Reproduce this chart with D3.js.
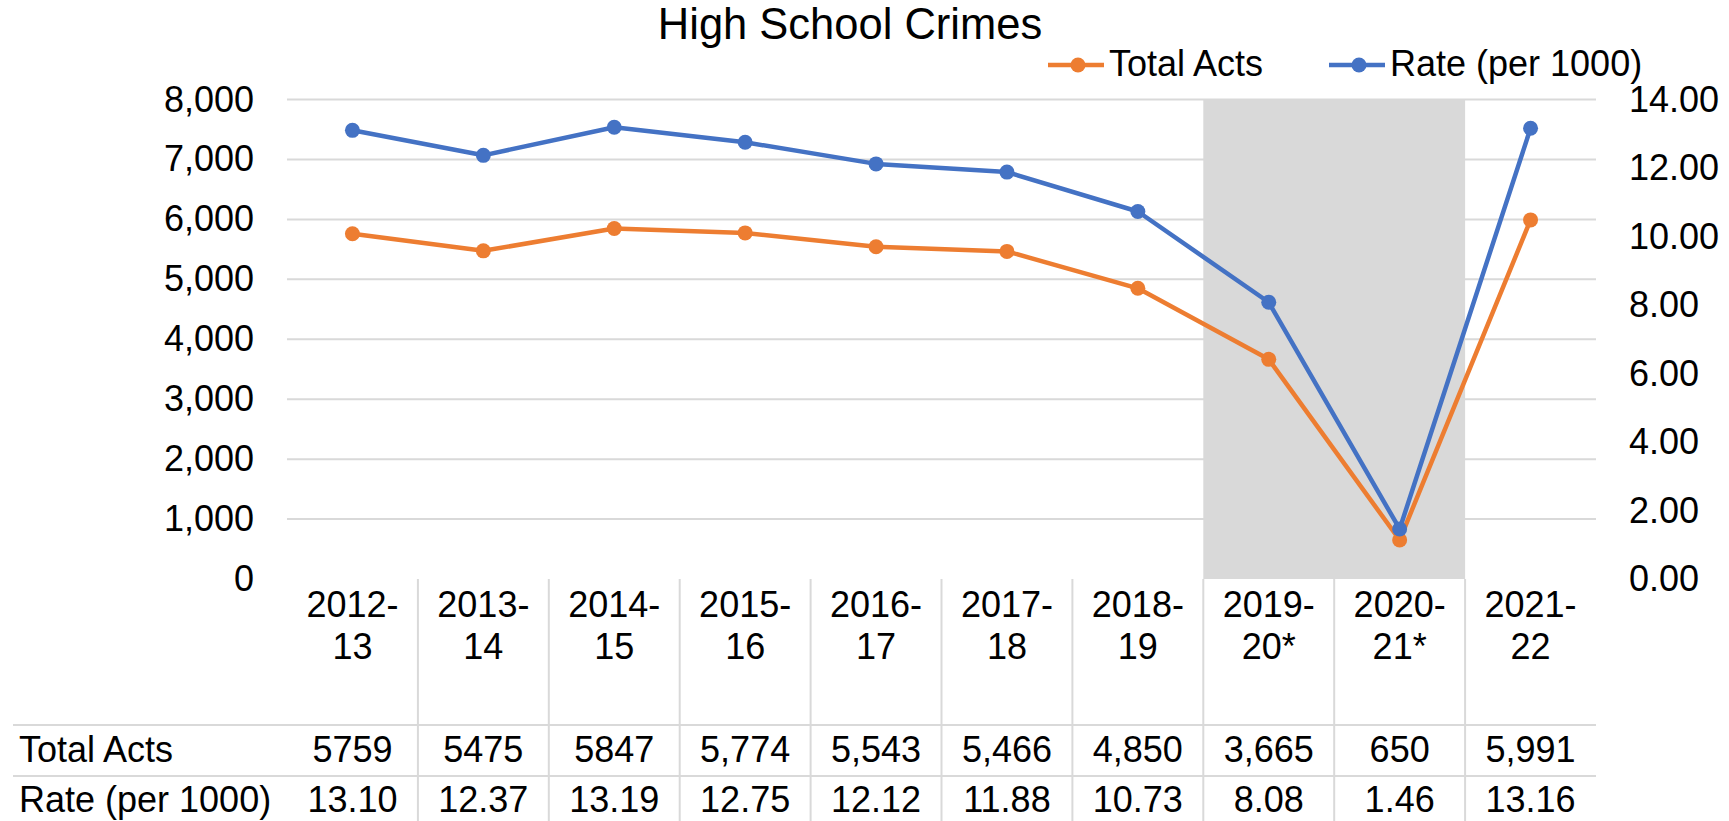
<!DOCTYPE html>
<html>
<head>
<meta charset="utf-8">
<script src="https://cdn.jsdelivr.net/npm/d3@7"></script>
<style>
  body { margin: 0; background: #fff; }
  text { font-family: "Liberation Sans", Arial, sans-serif; fill: #000; }
</style>
</head>
<body>
<script>
var w = 1729;
var h = 821;

var categories = ["2012-13", "2013-14", "2014-15", "2015-16", "2016-17", "2017-18", "2018-19", "2019-20*", "2020-21*", "2021-22"];
var totalActs = [5759, 5475, 5847, 5774, 5543, 5466, 4850, 3665, 650, 5991];
var rates = [13.10, 12.37, 13.19, 12.75, 12.12, 11.88, 10.73, 8.08, 1.46, 13.16];
var totalLabels = ["5759", "5475", "5847", "5,774", "5,543", "5,466", "4,850", "3,665", "650", "5,991"];
var shadedCats = ["2019-20*", "2020-21*"];
var leftTicks = [0, 1000, 2000, 3000, 4000, 5000, 6000, 7000, 8000];
var rightTicks = [0, 2, 4, 6, 8, 10, 12, 14];

// plot box (window.top is reserved, so use other names)
var plotLeft = 287, plotRight = 1596, plotTop = 99.5, plotBottom = 579;
var fs = 36;

var xScale = d3.scaleBand().domain(categories).range([plotLeft, plotRight]).padding(0);
var yLeft = d3.scaleLinear().domain([0, 8000]).range([plotBottom, plotTop]);
var yRight = d3.scaleLinear().domain([0, 14]).range([plotBottom, plotTop]);
var cx = function(d) { return xScale(d) + xScale.bandwidth() / 2; };

var svg = d3.select("body").append("svg")
    .attr("width", w)
    .attr("height", h);

// gridlines
svg.append("g").selectAll("line")
   .data(leftTicks.filter(function(d) { return d > 0; }))
   .enter().append("line")
   .attr("x1", plotLeft).attr("x2", plotRight)
   .attr("y1", function(d) { return yLeft(d); })
   .attr("y2", function(d) { return yLeft(d); })
   .attr("stroke", "#d9d9d9")
   .attr("stroke-width", 2);

// shaded years - one block so no seam between the two bands
var shadeX0 = d3.min(shadedCats, function(d) { return xScale(d); });
var shadeX1 = d3.max(shadedCats, function(d) { return xScale(d) + xScale.bandwidth(); });
svg.append("rect")
   .attr("x", shadeX0)
   .attr("width", shadeX1 - shadeX0)
   .attr("y", yLeft(8000))
   .attr("height", yLeft(0) - yLeft(8000))
   .attr("fill", "#d9d9d9");

// axes
var yAxisL = d3.axisLeft(yLeft).tickValues(leftTicks).tickFormat(d3.format(",")).tickSize(0).tickPadding(33);
var gl = svg.append("g").attr("transform", "translate(" + plotLeft + ",0)").call(yAxisL);
gl.select(".domain").remove();
gl.selectAll("text").attr("font-size", fs).style("font-family", "'Liberation Sans', Arial, sans-serif");

var yAxisR = d3.axisRight(yRight).tickValues(rightTicks).tickFormat(d3.format(".2f")).tickSize(0).tickPadding(33);
var gr = svg.append("g").attr("transform", "translate(" + plotRight + ",0)").call(yAxisR);
gr.select(".domain").remove();
gr.selectAll("text").attr("font-size", fs).style("font-family", "'Liberation Sans', Arial, sans-serif");

var xAxis = d3.axisBottom(xScale).tickSize(0).tickPadding(0);
var gx = svg.append("g").attr("transform", "translate(0," + plotBottom + ")").call(xAxis);
gx.select(".domain").remove();
gx.selectAll("text")
  .attr("font-size", fs)
  .style("font-family", "'Liberation Sans', Arial, sans-serif")
  .attr("dy", null)
  .attr("y", 0)
  .each(function(d) {
      var parts = d.split("-");
      var t = d3.select(this).text(null);
      t.append("tspan").attr("x", 0).attr("y", 38).text(parts[0] + "-");
      t.append("tspan").attr("x", 0).attr("y", 80).text(parts[1]);
  });

// data table
var table = svg.append("g");
table.selectAll("line.v")
   .data(categories.slice(1))
   .enter().append("line")
   .attr("class", "v")
   .attr("x1", function(d) { return xScale(d); })
   .attr("x2", function(d) { return xScale(d); })
   .attr("y1", plotBottom)
   .attr("y2", h)
   .attr("stroke", "#d9d9d9")
   .attr("stroke-width", 2);

table.selectAll("line.hz")
   .data([725, 776])
   .enter().append("line")
   .attr("class", "hz")
   .attr("x1", 13).attr("x2", plotRight)
   .attr("y1", function(d) { return d; })
   .attr("y2", function(d) { return d; })
   .attr("stroke", "#d9d9d9")
   .attr("stroke-width", 2);

table.append("text").attr("x", 19).attr("y", 762).attr("font-size", fs).text("Total Acts");
table.append("text").attr("x", 19).attr("y", 812).attr("font-size", fs).text("Rate (per 1000)");

table.selectAll("text.tot")
   .data(categories)
   .enter().append("text")
   .attr("class", "tot")
   .attr("x", cx)
   .attr("y", 762)
   .attr("text-anchor", "middle")
   .attr("font-size", fs)
   .text(function(d, i) { return totalLabels[i]; });

table.selectAll("text.rate")
   .data(categories)
   .enter().append("text")
   .attr("class", "rate")
   .attr("x", cx)
   .attr("y", 812)
   .attr("text-anchor", "middle")
   .attr("font-size", fs)
   .text(function(d, i) { return d3.format(".2f")(rates[i]); });

// series
var series = [
  { name: "Total Acts", values: totalActs, y: yLeft, color: "#ED7D31" },
  { name: "Rate (per 1000)", values: rates, y: yRight, color: "#4472C4" }
];

series.forEach(function(s) {
  var line = d3.line()
      .x(function(d, i) { return cx(categories[i]); })
      .y(function(d) { return s.y(d); });
  svg.append("path")
     .datum(s.values)
     .attr("d", line)
     .attr("fill", "none")
     .attr("stroke", s.color)
     .attr("stroke-width", 4.5)
     .attr("stroke-linejoin", "round");
  svg.append("g").selectAll("circle")
     .data(s.values)
     .enter().append("circle")
     .attr("cx", function(d, i) { return cx(categories[i]); })
     .attr("cy", function(d) { return s.y(d); })
     .attr("r", 7.5)
     .attr("fill", s.color);
});

// title
svg.append("text")
   .attr("x", 850)
   .attr("y", 39)
   .attr("text-anchor", "middle")
   .attr("font-size", 43.5)
   .text("High School Crimes");

// legend
var legendX = [1048, 1329];
var legend = svg.append("g").selectAll("g")
   .data(series)
   .enter().append("g")
   .attr("transform", function(d, i) { return "translate(" + legendX[i] + ",65)"; });
legend.append("line")
   .attr("x1", 0).attr("x2", 56)
   .attr("stroke", function(d) { return d.color; })
   .attr("stroke-width", 4.5);
legend.append("circle")
   .attr("cx", 30).attr("r", 7.5)
   .attr("fill", function(d) { return d.color; });
legend.append("text")
   .attr("x", 61)
   .attr("y", 11)
   .attr("font-size", fs)
   .text(function(d) { return d.name; });
</script>
</body>
</html>
